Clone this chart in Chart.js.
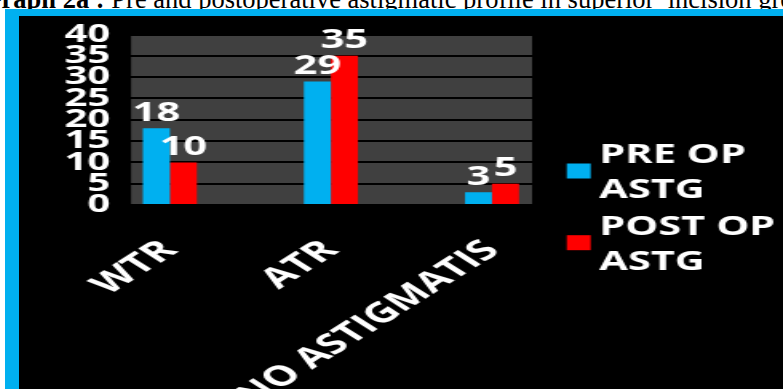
<!DOCTYPE html>
<html>
<head>
<meta charset="utf-8">
<script src="https://cdn.jsdelivr.net/npm/chart.js@4"></script>
<style>
	html, body { margin: 0; padding: 0; background: #fff; overflow: hidden; }
	body { width: 783px; height: 389px; position: relative; }
	.caption {
		position: absolute; top: -13px; left: -19px; white-space: nowrap;
		font: 26.5px/24px "Liberation Serif", "Times New Roman", serif; color: #000;
	}
	.frame {
		position: absolute; left: 5px; top: 9px; width: 778px; height: 380px;
		box-sizing: border-box; background: #000;
		border-left: 14px solid #00b0f0; border-top: 7px solid #00b0f0;
	}
	/* the chart is drawn narrow and stretched sideways */
	#astig_chart { position: absolute; left: 0; top: 0; transform-origin: 0 0; transform: scaleX(1.5983); }
</style>
</head>
<body>
<div class="caption"><b>Graph 2a :</b> Pre and postoperative astigmatic profile in superior&nbsp; incision group</div>
<div class="frame"><canvas id="astig_chart" width="478" height="373"></canvas></div>
<script>
const categories = ['WTR', 'ATR', 'NO ASTIGMATIS']
const preOpValues = [18, 29, 3]
const postOpValues = [10, 35, 5]
const seriesNames = [['PRE OP', 'ASTG'], ['POST OP', 'ASTG']]
const yTickValues = [0, 5, 10, 15, 20, 25, 30, 35, 40]

Chart.defaults.font.family = '"Open Sans", sans-serif'

// gray plot area behind the grid
const plotBackground = {
	id: 'plotBackground',
	beforeDraw(chart) {
		const { ctx, chartArea: a } = chart
		ctx.save()
		ctx.fillStyle = '#404040'
		ctx.fillRect(a.left, a.top, a.right - a.left, a.bottom - a.top)
		ctx.restore()
	},
}

// value written above each bar
const valueLabels = {
	id: 'valueLabels',
	afterDatasetsDraw(chart) {
		const { ctx } = chart
		ctx.save()
		ctx.font = 'bold 26px "Open Sans"'
		ctx.fillStyle = '#fff'
		ctx.textAlign = 'center'
		ctx.textBaseline = 'alphabetic'
		chart.data.datasets.forEach((ds, i) => {
			chart.getDatasetMeta(i).data.forEach((bar, j) => {
				ctx.fillText(ds.data[j].y, bar.x, bar.y - 7.5)
			})
		})
		ctx.restore()
	},
}

// two-line legend on the right, box centred on each entry
const sideLegend = {
	id: 'sideLegend',
	afterDraw(chart) {
		const { ctx, chartArea } = chart
		const boxX = chartArea.right + 21.7
		const textX = chartArea.right + 42
		const lineHeight = 35
		ctx.save()
		ctx.font = 'bold 26px "Open Sans"'
		ctx.textAlign = 'left'
		ctx.textBaseline = 'alphabetic'
		chart.data.datasets.forEach((ds, i) => {
			const center = 155 + i * 71.7
			ctx.fillStyle = ds.backgroundColor
			ctx.fillRect(boxX, center - 7.5, 15, 15)
			ctx.fillStyle = '#fff'
			seriesNames[i].forEach((line, k) => {
				ctx.fillText(line, textX, center + (k - 0.5) * lineHeight + 9.3)
			})
		})
		ctx.restore()
	},
}

new Chart(document.getElementById('astig_chart'), {
	type: 'bar',
	data: {
		datasets: [
			{
				label: seriesNames[0].join(' '),
				data: preOpValues.map((v, i) => ({ x: i, y: v })),
				backgroundColor: '#00b0f0',
			},
			{
				label: seriesNames[1].join(' '),
				data: postOpValues.map((v, i) => ({ x: i, y: v })),
				backgroundColor: '#ff0000',
			},
		],
	},
	options: {
		responsive: false,
		animation: false,
		devicePixelRatio: 1,
		categoryPercentage: 0.335,
		barPercentage: 1,
		layout: { padding: { top: 18.5, right: 157, left: 0, bottom: 0 } },
		plugins: {
			legend: { display: false },
			tooltip: { enabled: false },
		},
		scales: {
			x: {
				type: 'linear',
				bounds: 'data',
				offset: false,
				min: -0.241,
				max: 2.249,
				afterBuildTicks: scale => {
					scale.ticks = categories.map((c, i) => ({ value: i }))
				},
				afterFit: scale => {
					scale.height = 184
				},
				grid: { display: false, offset: false },
				border: { display: false },
				ticks: {
					color: '#fff',
					font: { size: 28, weight: 'bold' },
					minRotation: 45,
					maxRotation: 45,
					autoSkip: false,
					padding: 21,
					callback: v => categories[v],
				},
			},
			y: {
				min: 0,
				max: 40,
				afterBuildTicks: scale => {
					scale.ticks = yTickValues.map(v => ({ value: v }))
				},
				afterFit: scale => {
					// labels may overhang the plot top/bottom
					scale.width = 70.1
					scale.paddingTop = 0
					scale.paddingBottom = 0
				},
				grid: { color: '#000', lineWidth: 2, drawTicks: false },
				border: { display: false },
				ticks: {
					color: '#fff',
					font: { size: 25, weight: 'bold' },
					padding: 13,
					autoSkip: false,
				},
			},
		},
	},
	plugins: [plotBackground, valueLabels, sideLegend],
})
</script>
</body>
</html>
